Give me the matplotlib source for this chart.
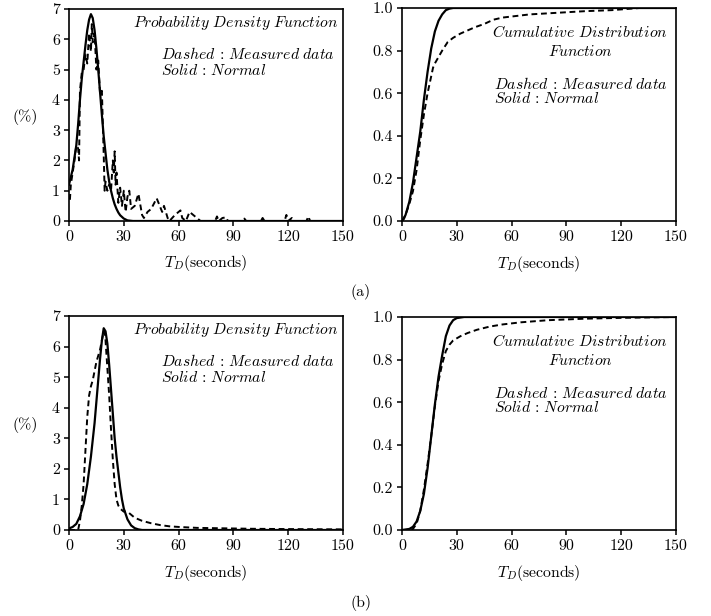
import matplotlib
matplotlib.use("Agg")
import matplotlib.pyplot as plt

plt.rcParams['font.family'] = 'serif'
plt.rcParams['font.serif'] = ['cmr10', 'DejaVu Serif']
plt.rcParams['mathtext.fontset'] = 'cm'
plt.rcParams['axes.formatter.use_mathtext'] = True

# ---------------- data ----------------
x_ticks = [0, 30, 60, 90, 120, 150]
pdf_ticks = [0, 1, 2, 3, 4, 5, 6, 7]
cdf_ticks = [0.0, 0.2, 0.4, 0.6, 0.8, 1.0]

# (a) PDF, normal fit (solid)
a_pdf_norm_x = [0, 1, 2, 3, 4, 5, 6, 7, 8, 9, 10, 11, 12, 13, 14, 15, 16, 17, 18, 19, 20,
                21, 22, 23, 24, 25, 26, 27, 28, 30, 32, 35, 150]
a_pdf_norm_y = [1.2, 1.45, 1.7, 2.1, 2.5, 3.2, 4.0, 4.7, 5.25, 5.8, 6.3, 6.65, 6.83, 6.7, 6.3,
                5.7, 5.0, 4.25, 3.5, 2.8, 2.25, 1.7, 1.3, 1.0, 0.75, 0.55, 0.4, 0.28, 0.19,
                0.08, 0.02, 0.0, 0.0]

# (a) PDF, measured (dashed)
a_pdf_meas_x = [0.5, 1, 2, 3, 4, 5, 5.5, 6, 7, 8, 9, 10, 11, 12, 12.5, 13, 14, 15, 16, 17, 18,
                19, 19.5, 20, 21, 22, 23, 24, 24.5, 25, 25.5, 26, 27, 28, 29, 30, 31, 32, 33,
                34, 36, 38, 40, 41, 43, 45, 48, 49, 51, 52, 54, 55, 58, 61, 62, 64, 66, 68,
                70, 72, 80, 81, 82, 84, 86, 87, 95, 96, 97, 105, 106, 107, 118, 119, 120,
                122, 123, 130, 131, 132]
a_pdf_meas_y = [0.7, 1.2, 1.6, 2.0, 2.5, 2.4, 2.0, 4.3, 4.9, 5.0, 5.5, 5.2, 6.2, 5.6, 6.5, 5.9,
                6.2, 5.0, 5.3, 4.2, 4.3, 2.2, 1.0, 1.3, 1.0, 1.2, 1.0, 2.0, 1.6, 2.3, 1.2, 1.6,
                0.6, 1.1, 0.5, 1.0, 0.3, 0.8, 1.0, 0.4, 0.5, 0.9, 0.2, 0.1, 0.3, 0.4, 0.75,
                0.6, 0.3, 0.5, 0.1, 0.0, 0.2, 0.35, 0.1, 0.0, 0.3, 0.2, 0.1, 0.0, 0.0, 0.15,
                0.0, 0.1, 0.12, 0.0, 0.0, 0.08, 0.0, 0.0, 0.1, 0.0, 0.0, 0.2, 0.0, 0.1, 0.0,
                0.0, 0.15, 0.0]

# (a) CDF
a_cdf_norm_x = [0, 1, 2, 4, 6, 8, 10, 12, 14, 16, 18, 20, 22, 24, 26, 28, 150]
a_cdf_norm_y = [0, 0.01, 0.03, 0.09, 0.18, 0.30, 0.42, 0.57, 0.70, 0.81, 0.89, 0.94, 0.97,
                0.99, 0.997, 1.0, 1.0]
a_cdf_meas_x = [0, 2, 4, 6, 8, 10, 12, 14, 16, 17, 18, 20, 22, 25, 28, 32, 36, 40, 45, 50,
                55, 60, 70, 80, 90, 100, 115, 130]
a_cdf_meas_y = [0, 0.03, 0.08, 0.14, 0.24, 0.38, 0.50, 0.60, 0.68, 0.72, 0.74, 0.77, 0.80,
                0.84, 0.86, 0.88, 0.895, 0.91, 0.925, 0.945, 0.955, 0.96, 0.97, 0.975, 0.98,
                0.985, 0.99, 1.0]

# (b) PDF
b_pdf_norm_x = [0, 2, 4, 6, 8, 10, 12, 14, 16, 17, 18, 19, 20, 21, 22, 23, 24, 25, 26, 27,
                28, 29, 30, 32, 34, 36, 38, 40, 150]
b_pdf_norm_y = [0.05, 0.1, 0.2, 0.45, 0.85, 1.5, 2.4, 3.5, 4.9, 5.6, 6.2, 6.6, 6.5, 6.1,
                5.4, 4.6, 3.8, 3.0, 2.4, 1.9, 1.4, 1.0, 0.7, 0.35, 0.15, 0.06, 0.02, 0.0, 0.0]
b_pdf_meas_x = [0, 5, 6, 7, 8, 9, 10, 11, 12, 13, 14, 15, 16, 17, 18, 19, 19.5, 20, 21, 22,
                23, 24, 25, 26, 27, 28, 30, 32, 34, 36, 40, 45, 50, 55, 60, 70, 80, 90, 100,
                120, 150]
b_pdf_meas_y = [0, 0, 0.3, 0.8, 1.5, 2.6, 3.7, 4.4, 4.7, 4.9, 5.2, 5.5, 5.7, 5.9, 6.2, 6.5,
                6.5, 6.2, 5.3, 4.4, 3.3, 2.3, 1.5, 1.0, 0.8, 0.7, 0.6, 0.6, 0.5, 0.4, 0.3,
                0.22, 0.16, 0.12, 0.1, 0.07, 0.06, 0.05, 0.04, 0.03, 0.02]

# (b) CDF
b_cdf_norm_x = [0, 4, 6, 8, 10, 12, 14, 16, 18, 20, 22, 24, 26, 28, 30, 34, 150]
b_cdf_norm_y = [0, 0.005, 0.015, 0.04, 0.09, 0.17, 0.29, 0.44, 0.59, 0.72, 0.82, 0.91,
                0.96, 0.985, 0.995, 1.0, 1.0]
b_cdf_meas_x = [0, 5, 6, 8, 10, 12, 14, 16, 18, 20, 22, 24, 26, 28, 32, 36, 41, 48, 55, 65,
                80, 100, 120, 150]
b_cdf_meas_y = [0, 0, 0.005, 0.03, 0.09, 0.19, 0.31, 0.44, 0.58, 0.70, 0.78, 0.84, 0.87,
                0.89, 0.91, 0.925, 0.94, 0.955, 0.965, 0.975, 0.985, 0.992, 0.996, 1.0]

pdf_title = r'$Probability\ Density\ Function$'
cdf_title1 = r'$Cumulative\ Distribution$'
cdf_title2 = r'$Function$'
leg1 = r'$Dashed\,:\,Measured\ data$'
leg2 = r'$Solid\,:\,Normal$'
xlabel = r'$T_D$(seconds)'
ylabel = '(%)'
panel_labels = ['(a)', '(b)']

# ---------------- figure ----------------
W, H = 711, 616
fig = plt.figure(figsize=(W / 100, H / 100), dpi=100)


def ax_at(l, t, r, b):
    return fig.add_axes([l / W, 1 - b / H, (r - l) / W, (b - t) / H])


axA1 = ax_at(69, 9, 343, 221)
axA2 = ax_at(402, 8, 676, 221)
axB1 = ax_at(69, 316, 343, 530)
axB2 = ax_at(402, 317, 676, 530)

solid_kw = dict(color='black', lw=1.6, solid_joinstyle='round')
dash_kw = dict(color='black', lw=1.4, dashes=(3.0, 1.9))
fs_tick = 11.5
fs_text = 11.3


def style(ax, yticks, ymax, fmt):
    ax.set_xlim(0, 150)
    ax.set_ylim(0, ymax)
    ax.set_xticks(x_ticks)
    ax.set_yticks(yticks)
    ax.set_yticklabels([fmt.format(v) for v in yticks])
    ax.set_xticklabels([str(v) for v in x_ticks])
    for s in ax.spines.values():
        s.set_linewidth(1.2)
    ax.tick_params(direction='out', length=3.5, width=1.1, labelsize=fs_tick, pad=3)
    ax.text(0.5, -0.2, xlabel, transform=ax.transAxes, ha='center', va='center',
            fontsize=fs_text)


def pdf_panel(ax, nx, ny, mx, my):
    ax.plot(mx, my, **dash_kw)
    ax.plot(nx, ny, **solid_kw)
    style(ax, pdf_ticks, 7, '{:d}')
    ax.text(0.982, 0.933, pdf_title, transform=ax.transAxes, ha='right', va='center',
            fontsize=fs_text)
    ax.text(0.336, 0.788, leg1, transform=ax.transAxes, ha='left', va='center',
            fontsize=fs_text)
    ax.text(0.336, 0.712, leg2, transform=ax.transAxes, ha='left', va='center',
            fontsize=fs_text)
    ax.text(-0.16, 0.49, ylabel, transform=ax.transAxes, ha='center', va='center',
            fontsize=fs_text)


def cdf_panel(ax, nx, ny, mx, my):
    ax.plot(mx, my, **dash_kw)
    ax.plot(nx, ny, **solid_kw)
    style(ax, cdf_ticks, 1.0, '{:.1f}')
    ax.text(0.65, 0.887, cdf_title1, transform=ax.transAxes, ha='center', va='center',
            fontsize=fs_text)
    ax.text(0.65, 0.798, cdf_title2, transform=ax.transAxes, ha='center', va='center',
            fontsize=fs_text)
    ax.text(0.336, 0.643, leg1, transform=ax.transAxes, ha='left', va='center',
            fontsize=fs_text)
    ax.text(0.336, 0.573, leg2, transform=ax.transAxes, ha='left', va='center',
            fontsize=fs_text)


pdf_panel(axA1, a_pdf_norm_x, a_pdf_norm_y, a_pdf_meas_x, a_pdf_meas_y)
cdf_panel(axA2, a_cdf_norm_x, a_cdf_norm_y, a_cdf_meas_x, a_cdf_meas_y)
pdf_panel(axB1, b_pdf_norm_x, b_pdf_norm_y, b_pdf_meas_x, b_pdf_meas_y)
cdf_panel(axB2, b_cdf_norm_x, b_cdf_norm_y, b_cdf_meas_x, b_cdf_meas_y)

fig.text(361 / W, 1 - 292 / H, panel_labels[0], ha='center', va='center', fontsize=fs_text)
fig.text(361 / W, 1 - 603 / H, panel_labels[1], ha='center', va='center', fontsize=fs_text)

fig.savefig('out.png', dpi=100)
